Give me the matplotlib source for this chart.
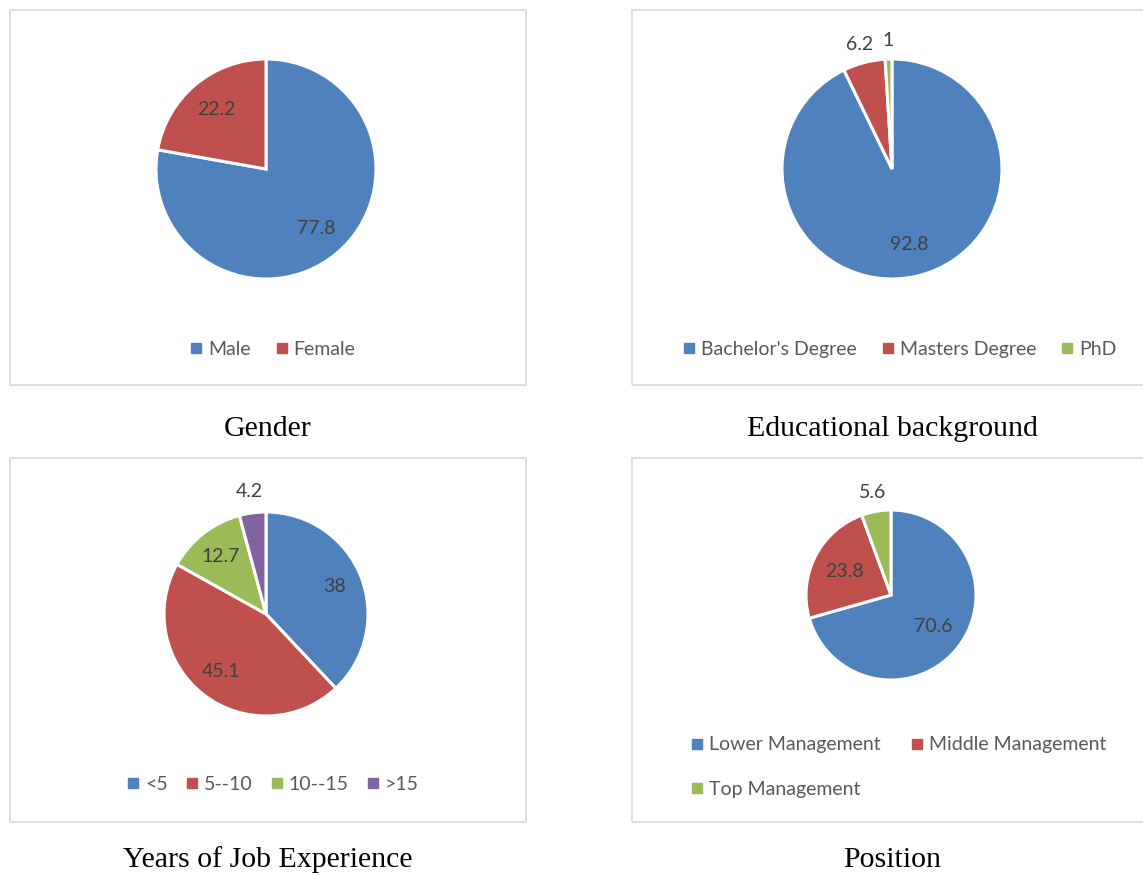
import matplotlib
matplotlib.use("Agg")
import numpy as np
import matplotlib.pyplot as plt
from matplotlib.lines import Line2D
from matplotlib.patches import Rectangle

# ---- data ----
gender_labels = ["Male", "Female"]
gender_values = [77.8, 22.2]

edu_labels = ["Bachelor's Degree", "Masters Degree", "PhD"]
edu_values = [92.8, 6.2, 1]

exp_labels = ["<5", "5--10", "10--15", ">15"]
exp_values = [38, 45.1, 12.7, 4.2]

pos_labels = ["Lower Management", "Middle Management", "Top Management"]
pos_values = [70.6, 23.8, 5.6]

captions = ["Gender", "Educational background", "Years of Job Experience", "Position"]

colors = ["#4F81BD", "#C0504D", "#9BBB59", "#8064A2"]

W, H = 1143, 876
fig = plt.figure(figsize=(W / 100, H / 100), dpi=100)
fig.patch.set_facecolor("white")

SANS = ["Lato", "DejaVu Sans"]
SERIF = ["Liberation Serif", "DejaVu Serif"]


def fx(x):
    return x / W


def fy(y):
    return 1 - y / H


def box(x0, y0, x1, y1):
    fig.patches.append(Rectangle((fx(x0), fy(y1)), fx(x1) - fx(x0), fy(y0) - fy(y1),
                                 transform=fig.transFigure, fill=False,
                                 edgecolor="#D9D9D9", linewidth=1.2))


def pie_panel(values, labels, cx, cy, r, inside_d, outside_d, leg_xy, ncol, order=None,
              labelspacing=0.5, colspace=1.1):
    ax = fig.add_axes([fx(cx - r), fy(cy + r), 2 * r / W, 2 * r / H])
    wedges, _ = ax.pie(values, colors=colors[:len(values)], startangle=90,
                       counterclock=False, radius=1,
                       wedgeprops=dict(edgecolor="white", linewidth=2.2))
    ax.set_xlim(-1, 1)
    ax.set_ylim(-1, 1)
    ax.set_aspect("auto")
    ax.axis("off")
    for w, v in zip(wedges, values):
        th = np.deg2rad((w.theta1 + w.theta2) / 2)
        d = inside_d if v >= 10 else outside_d
        ax.text(d * np.cos(th), d * np.sin(th), "%g" % v, ha="center", va="center",
                fontsize=14, color="#404040", family=SANS)
    handles = [Line2D([], [], marker="s", linestyle="none", markersize=7,
                      markerfacecolor=c, markeredgecolor=c) for c in colors[:len(values)]]
    labs = list(labels)
    if order is not None:
        handles = [handles[i] for i in order]
        labs = [labs[i] for i in order]
    fig.legend(handles, labs, loc="center", bbox_to_anchor=(fx(leg_xy[0]), fy(leg_xy[1])),
               ncol=ncol, frameon=False, handletextpad=0.1, columnspacing=colspace,
               handlelength=1.0, labelspacing=labelspacing,
               prop=dict(family=SANS, size=14), labelcolor="#595959")


# panel boxes
box(10, 10, 526, 385)
box(632, 10, 1150, 385)
box(10, 458, 526, 822)
box(632, 458, 1150, 822)

pie_panel(gender_values, gender_labels, 266, 169, 110, 0.71, 1.17, (271, 349), 2)
pie_panel(edu_values, edu_labels, 892, 169, 110, 0.70, 1.17, (898, 349), 3)
pie_panel(exp_values, exp_labels, 266, 614, 102, 0.72, 1.21, (271, 784), 4, colspace=0.75)
pie_panel(pos_values, pos_labels, 891, 595, 85, 0.62, 1.23, (897, 767), 2,
          order=[0, 2, 1], labelspacing=1.4, colspace=1.4)

cap_pos = [(268, 429), (892, 429), (268, 860), (892, 860)]
for t, (x, y) in zip(captions, cap_pos):
    fig.text(fx(x), fy(y), t, ha="center", va="center", fontsize=21.5, family=SERIF,
             color="black")

fig.savefig("out.png", dpi=100, facecolor="white")
